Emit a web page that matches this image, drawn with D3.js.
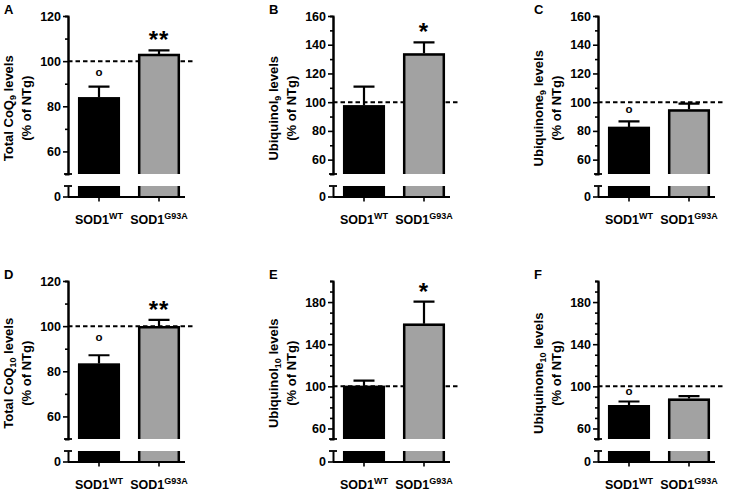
<!DOCTYPE html>
<html><head><meta charset="utf-8">
<script src="https://cdn.jsdelivr.net/npm/d3@7"></script>
<style>
body{margin:0;background:#fff;}
svg{display:block;font-family:"Liberation Sans",Arial,Helvetica,sans-serif;font-weight:bold;}
</style></head>
<body>
<svg id="chart" width="732" height="492"></svg>
<script>
// ---- data ----
const panelIds   = ["A","B","C","D","E","F"];
const titleMain  = ["Total CoQ","Ubiquinol","Ubiquinone","Total CoQ","Ubiquinol","Ubiquinone"];
const titleSub   = ["9","9","9","10","10","10"];
const groups     = ["WT","G93A"];
const wtMean     = [84.0, 97.8, 82.8, 83.4, 100.5, 82.2];
const wtSem      = [4.7, 13.0, 3.9, 3.7, 5.0, 3.4];
const mutMean    = [103.2, 134.0, 95.0, 100.0, 159.5, 88.5];
const mutSem     = [1.6, 7.6, 4.0, 2.8, 21.0, 2.2];
const wtMark     = ["o","","o","o","","o"];
const mutMark    = ["**","*","","**","*",""];
const yMax       = [120, 160, 160, 120, 200, 200];
const yMajor     = [[60,80,100,120],[60,80,100,120,140,160],[60,80,100,120,140,160],
                    [60,80,100,120],[60,100,140,180],[60,100,140,180]];
const yMinor     = [[70,90,110],[70,90,110,130,150],[70,90,110,130,150],
                    [70,90,110],[70,80,90,110,120,130,150,160,170,190,200],[70,80,90,110,120,130,150,160,170,190,200]];
const breakLow   = 50;   // upper segment starts at 50
const lowMax     = 5;    // lower segment 0..5
const refLevel   = 100;  // dashed reference (NTg)
const markLevel  = 95;   // level of the "o" marks

// ---- layout ----
const colX   = [68, 333, 598];
const rowTop = [16, 281];
const rowBrk = [174, 439];
const rowLowTop = [186, 451];
const rowZero = [196.5, 461.5];
const grey = "#a2a2a2";

const svg = d3.select("#chart");

panelIds.forEach((id, i) => {
  const c = i % 3, r = Math.floor(i / 3);
  const ax = colX[c];
  const g = svg.append("g");

  const y = d3.scaleLinear().domain([breakLow, yMax[i]]).range([rowBrk[r], rowTop[r]]);
  const yl = d3.scaleLinear().domain([0, lowMax]).range([rowZero[r], rowLowTop[r]]);
  const x = d3.scaleBand().domain(groups).range([ax, ax + 122]).paddingInner(0.3).paddingOuter(1/6);

  const means = [wtMean[i], mutMean[i]];
  const sems = [wtSem[i], mutSem[i]];
  const marks = [wtMark[i], mutMark[i]];
  const fills = ["#000", grey];

  // dashed reference line
  g.append("line")
    .attr("x1", ax).attr("x2", ax + 125)
    .attr("y1", y(refLevel)).attr("y2", y(refLevel))
    .attr("stroke", "#000").attr("stroke-width", 2).attr("stroke-dasharray", "4.5,3");

  groups.forEach((gr, k) => {
    const x0 = x(gr), bw = x.bandwidth();
    // upper bar
    g.append("rect").attr("x", x0).attr("y", y(means[k])).attr("width", bw)
      .attr("height", y(breakLow) - y(means[k])).attr("fill", fills[k]);
    g.append("path")
      .attr("d", `M${x0+1.2},${y(breakLow)}V${y(means[k])+1.2}H${x0+bw-1.2}V${y(breakLow)}`)
      .attr("fill", "none").attr("stroke", "#000").attr("stroke-width", 2.5);
    // lower bar
    g.append("rect").attr("x", x0).attr("y", yl(lowMax)).attr("width", bw)
      .attr("height", yl(0) - yl(lowMax)).attr("fill", fills[k]);
    g.append("path")
      .attr("d", `M${x0+1.2},${yl(0)}V${yl(lowMax)}M${x0+bw-1.2},${yl(0)}V${yl(lowMax)}`)
      .attr("fill", "none").attr("stroke", "#000").attr("stroke-width", 2.5);
    // error bar
    const cx = x0 + bw / 2, top = means[k] + sems[k];
    g.append("path")
      .attr("d", `M${cx},${y(means[k])}V${y(top)}M${cx - bw/4},${y(top)}H${cx + bw/4}`)
      .attr("fill", "none").attr("stroke", "#000").attr("stroke-width", 2.2);
    // significance marks
    if (marks[k] === "o") {
      g.append("text").attr("x", cx).attr("y", y(markLevel) + 3.2)
        .attr("text-anchor", "middle").attr("font-size", 11.5).attr("font-weight", "bold")
        .attr("fill", "#000").text("o");
    } else if (marks[k]) {
      g.append("text").attr("x", cx).attr("y", y(top) - 2)
        .attr("text-anchor", "middle").attr("font-size", 24).attr("letter-spacing", 1)
        .text(marks[k]);
    }
  });

  // y axis upper
  const ayU = g.append("g").attr("transform", `translate(${ax},0)`)
    .call(d3.axisLeft(y).tickValues(yMajor[i]).tickSize(5).tickSizeOuter(0).tickPadding(2).tickFormat(d3.format("d")));
  ayU.append("g").call(d3.axisLeft(y).tickValues(yMinor[i]).tickSize(3).tickFormat(""));
  // lower axis
  const ayL = g.append("g").attr("transform", `translate(${ax},0)`)
    .call(d3.axisLeft(yl).tickValues([0]).tickSize(5).tickSizeOuter(0).tickPadding(2).tickFormat(d3.format("d")));
  [ayU, ayL].forEach(a => {
    a.selectAll("path.domain").attr("stroke-width", 2);
    a.selectAll("line").attr("stroke-width", 1.6);
    a.selectAll("text").attr("font-size", 12.5).attr("font-weight", "bold").attr("fill", "#000")
      .attr("font-family", '"Liberation Sans",Arial,sans-serif');
  });
  ayU.select("g").selectAll("path.domain").remove();
  // break caps
  [y(breakLow), yl(lowMax)].forEach(yy => {
    g.append("line").attr("x1", ax - 4).attr("x2", ax + 4).attr("y1", yy).attr("y2", yy)
      .attr("stroke", "#000").attr("stroke-width", 1.8);
  });

  // x axis
  const axX = g.append("g").attr("transform", `translate(0,${rowZero[r]})`)
    .call(d3.axisBottom(x).tickSize(5).tickSizeOuter(0).tickFormat(""));
  axX.select("path.domain").attr("d", `M${ax},0.5H${ax + 117}`).attr("stroke-width", 2);
  axX.selectAll("line").attr("stroke-width", 1.6);
  groups.forEach(gr => {
    const t = g.append("text").attr("x", x(gr) + x.bandwidth()/2).attr("y", rowZero[r] + 27)
      .attr("text-anchor", "middle").attr("font-size", 12.5);
    t.append("tspan").text("SOD1");
    t.append("tspan").attr("dy", -5).attr("font-size", 9).text(gr);
  });

  // y title
  const cy = (rowTop[r] + rowZero[r]) / 2 + 2;
  const t1 = g.append("text").attr("transform", `translate(${ax - 55},${cy}) rotate(-90)`)
    .attr("text-anchor", "middle").attr("font-size", 13);
  t1.append("tspan").text(titleMain[i]);
  t1.append("tspan").attr("dy", 3).attr("font-size", 9).text(titleSub[i]);
  t1.append("tspan").attr("dy", -3).text(" levels");
  g.append("text").attr("transform", `translate(${ax - 37},${cy}) rotate(-90)`)
    .attr("text-anchor", "middle").attr("font-size", 13).text("(% of NTg)");

  // panel letter
  g.append("text").attr("x", ax - 64).attr("y", rowTop[r] - 2).attr("font-size", 13).text(id);
});
</script>
</body></html>
